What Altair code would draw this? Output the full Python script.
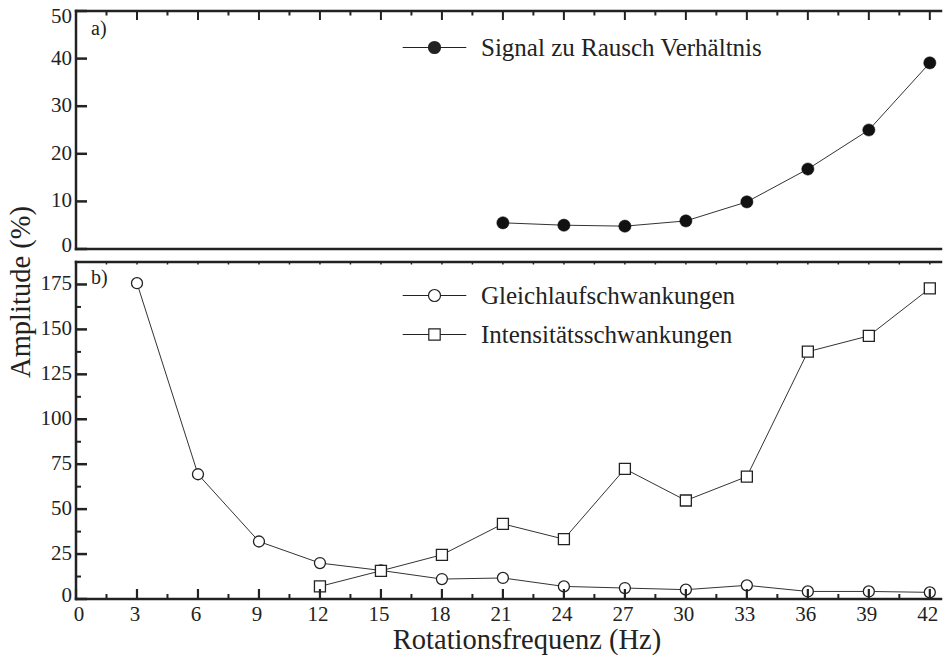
import altair as alt
import pandas as pd

FONT = "Liberation Serif"
INK = "#222222"

# ---------------- data ----------------
name_a = "Signal zu Rausch Verhältnis"
name_g = "Gleichlaufschwankungen"
name_i = "Intensitätsschwankungen"

freq_a = [21, 24, 27, 30, 33, 36, 39, 42]
snr = [5.5, 5.0, 4.8, 5.9, 9.9, 16.8, 25.0, 39.1]

freq_g = [3, 6, 9, 12, 15, 18, 21, 24, 27, 30, 33, 36, 39, 42]
gleich = [175.7, 69.4, 32.0, 20.0, 15.9, 11.1, 11.7, 7.0, 6.1, 5.2, 7.6, 4.2, 4.2, 3.7]

freq_i = [12, 15, 18, 21, 24, 27, 30, 33, 36, 39, 42]
intens = [7.0, 15.7, 24.6, 41.8, 33.3, 72.4, 54.8, 68.1, 137.6, 146.4, 172.8]

x_major = list(range(0, 43, 3))
x_minor = [1.5 + 3 * i for i in range(14)]
x_all = sorted(x_major + x_minor)
ya_ticks = [0, 10, 20, 30, 40, 50]
yb_major = list(range(0, 176, 25))
yb_minor = [12.5 + 25 * i for i in range(7)]

x_title = "Rotationsfrequenz (Hz)"
y_title = "Amplitude (%)"

# ---------------- layout ----------------
X_MAX = 42.55
YA_MAX = 50
YB_MAX = 187.5
W = 865
HA = 238
HB = 337

df_a = pd.DataFrame({"f": freq_a, "v": snr, "series": name_a})
df_b = pd.concat([
    pd.DataFrame({"f": freq_g, "v": gleich, "series": name_g}),
    pd.DataFrame({"f": freq_i, "v": intens, "series": name_i}),
], ignore_index=True)
df_empty = pd.DataFrame({"f": pd.Series([], dtype=float),
                         "v": pd.Series([], dtype=float),
                         "series": pd.Series([], dtype=str)})

xs = alt.Scale(domain=[0, X_MAX], nice=False, zero=False)
ya = alt.Scale(domain=[0, YA_MAX], nice=False)
yb = alt.Scale(domain=[0, YB_MAX], nice=False)


def X():
    return alt.X("f:Q", scale=xs, axis=None)


def Y(scale):
    return alt.Y("v:Q", scale=scale, axis=None)


LINES = "M -5.3 0 L -1 0 M 1 0 L 5.3 0 "


def ring(r):
    return f"M {-r} 0 A {r} {r} 0 1 0 {r} 0 A {r} {r} 0 1 0 {-r} 0 "


PATH_DOT = LINES + "".join(ring(r) for r in [1.0, 0.82, 0.64, 0.46, 0.28, 0.1])
PATH_C = LINES + ring(1.0)
PATH_S = LINES + "M -0.95 -0.95 L 0.95 -0.95 L 0.95 0.95 L -0.95 0.95 Z"


def legend(x, y):
    return alt.Legend(
        title=None, orient="none", legendX=x, legendY=y, padding=0,
        labelFont=FONT, labelFontSize=25, labelColor=INK, labelLimit=0,
        labelOffset=34, rowPadding=13, symbolSize=144,
        symbolStrokeColor=INK, symbolStrokeWidth=1.2, symbolOpacity=1,
    )


# ---------------- frame helpers (ticks, borders, labels through the scales) ----------------
def xticks(scale, ymax, h, values, edge, direction, length, width):
    # tick of `length` pixels, converted to data units of the panel's y scale
    dv = direction * length * ymax / h
    d = pd.DataFrame({"f": values, "v": edge, "v2": edge + dv})
    return alt.Chart(d).mark_rule(color=INK, strokeWidth=width).encode(
        x=X(), y=Y(scale), y2="v2:Q")


def yticks(scale, values, length, width):
    d = pd.DataFrame({"f": 0.0, "f2": length * X_MAX / W, "v": values})
    return alt.Chart(d).mark_rule(color=INK, strokeWidth=width).encode(
        x=X(), x2="f2:Q", y=Y(scale))


def hborder(scale, yval):
    d = pd.DataFrame({"f": [0], "f2": [X_MAX], "v": [yval]})
    return alt.Chart(d).mark_rule(color=INK, strokeWidth=2.5, strokeCap="square").encode(
        x=X(), x2="f2:Q", y=Y(scale))


def vborder(scale, ymax):
    d = pd.DataFrame({"f": [0], "v": [0], "v2": [ymax]})
    return alt.Chart(d).mark_rule(color=INK, strokeWidth=2.5, strokeCap="square").encode(
        x=X(), y=Y(scale), y2="v2:Q")


def ylabels(scale, values, dy):
    d = pd.DataFrame({"f": 0, "v": values, "lab": [f"{v:g}" for v in values]})
    return alt.Chart(d).mark_text(
        align="right", baseline="middle", dx=-4, dy=dy, font=FONT, fontSize=21, color=INK
    ).encode(x=X(), y=Y(scale), text="lab:N")


def xlabels(scale, values, dx):
    d = pd.DataFrame({"f": values, "v": 0, "lab": [f"{v:g}" for v in values]})
    return alt.Chart(d).mark_text(
        align="center", baseline="top", dx=dx, dy=5, font=FONT, fontSize=21, color=INK
    ).encode(x=X(), y=Y(scale), text="lab:N")


def free_text(txt, x, y, size, angle=0, align="left"):
    return alt.Chart(pd.DataFrame({"t": [txt]})).mark_text(
        align=align, baseline="alphabetic", font=FONT, fontSize=size, color=INK, angle=angle
    ).encode(text="t:N", x=alt.value(x), y=alt.value(y))


# ---------------- panel a ----------------
line_a = alt.Chart(df_a).mark_line(color="#333333", strokeWidth=1).encode(x=X(), y=Y(ya))
pts_a = alt.Chart(df_a).mark_point(
    filled=True, fill="#111111", stroke="#111111", strokeWidth=0.5, size=150, opacity=1
).encode(x=X(), y=Y(ya))
leg_a = alt.Chart(df_empty).mark_point(
    filled=False, color=INK, strokeWidth=1.2, opacity=1
).encode(
    x=X(), y=Y(ya),
    shape=alt.Shape("series:N", scale=alt.Scale(domain=[name_a], range=[PATH_DOT]),
                    legend=legend(346, 24)),
)

top = alt.layer(
    line_a, pts_a, leg_a,
    hborder(ya, YA_MAX), hborder(ya, 0), vborder(ya, YA_MAX),
    xticks(ya, YA_MAX, HA, x_major, YA_MAX, -1, 9, 2),
    xticks(ya, YA_MAX, HA, x_minor, YA_MAX, -1, 4.5, 2),
    yticks(ya, ya_ticks, 11, 2.5),
    ylabels(ya, ya_ticks[1:-1], 0),
    ylabels(ya, ya_ticks[:1], -3),
    ylabels(ya, ya_ticks[-1:], 6),
    free_text("a)", 15, 24, 20),
).properties(width=W, height=HA)

# ---------------- panel b ----------------
line_b = alt.Chart(df_b).mark_line(color="#333333", strokeWidth=1).encode(
    x=X(), y=Y(yb), detail="series:N")
pts_b = alt.Chart(df_b).mark_point(
    filled=True, fill="white", stroke=INK, strokeWidth=1.3, size=121, opacity=1
).encode(
    x=X(), y=Y(yb),
    shape=alt.Shape("series:N", scale=alt.Scale(domain=[name_g, name_i], range=["circle", "square"]),
                    legend=None),
)
leg_b = alt.Chart(df_empty).mark_point(
    filled=False, color=INK, strokeWidth=1.2, opacity=1
).encode(
    x=X(), y=Y(yb),
    shape=alt.Shape("series:N", scale=alt.Scale(domain=[name_g, name_i], range=[PATH_C, PATH_S]),
                    legend=legend(346, 21)),
)

bottom = alt.layer(
    line_b, pts_b, leg_b,
    hborder(yb, YB_MAX), hborder(yb, 0), vborder(yb, YB_MAX),
    xticks(yb, YB_MAX, HB, x_major, 0, 1, 10, 2.2),
    xticks(yb, YB_MAX, HB, x_minor, 0, 1, 5, 2),
    xticks(yb, YB_MAX, HB, x_all, YB_MAX, -1, 2.5, 1.5),
    yticks(yb, yb_major, 11, 2.5),
    yticks(yb, yb_minor, 5, 2),
    ylabels(yb, yb_major[1:], 0),
    ylabels(yb, yb_major[:1], -3),
    xlabels(yb, x_major[:1], 3),
    xlabels(yb, x_major[1:], -2),
    free_text("b)", 15, 22, 20),
    free_text(x_title, 451, HB + 50, 28.5, align="center"),
    free_text(y_title, -46, 30, 28.5, angle=270, align="center"),
).resolve_scale(shape="independent").properties(width=W, height=HB)

chart = alt.vconcat(top, bottom, spacing=13, bounds="flush").properties(
    padding={"left": 7, "top": 6, "right": 0, "bottom": 0},
    background="white",
).configure_view(stroke=None)

chart.save("out.html", embed_options={"renderer": "svg", "actions": False})
